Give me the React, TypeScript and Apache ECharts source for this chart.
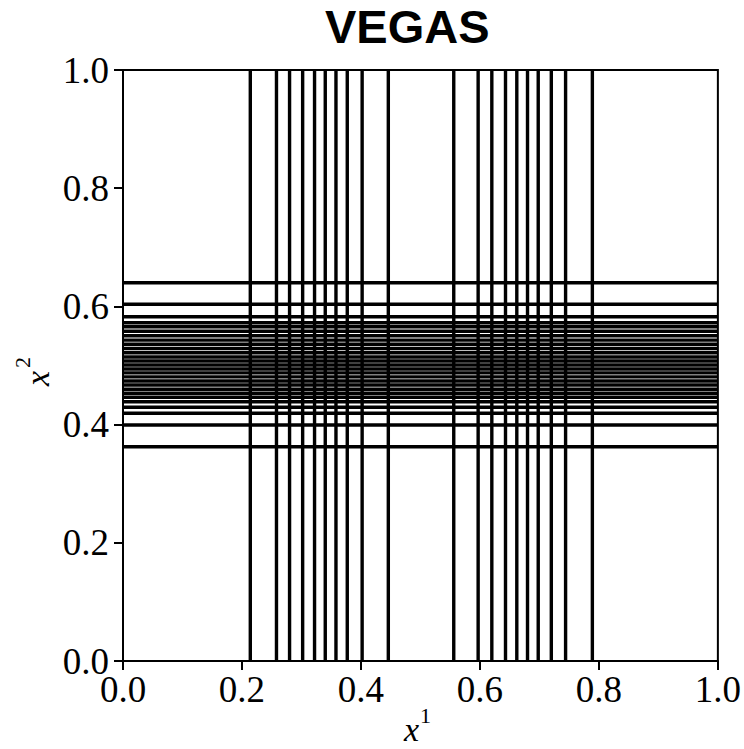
import React, { useEffect, useRef } from "react";
import * as echarts from "echarts";

// VEGAS grid edges along x^1 (vertical lines)
const xEdges = [
  0.214, 0.258, 0.28, 0.302, 0.322, 0.34, 0.358, 0.377, 0.402, 0.446,
  0.556, 0.597, 0.62, 0.643, 0.662, 0.68, 0.698, 0.72, 0.744, 0.789,
];

// VEGAS grid edges along x^2 (horizontal lines)
const yEdges = [
  0.3626, 0.3993, 0.4191, 0.4293, 0.4387, 0.4462, 0.453, 0.4597, 0.467,
  0.4738, 0.4808, 0.4875, 0.494, 0.5008, 0.5075, 0.5145, 0.5215, 0.5288,
  0.536, 0.543, 0.5504, 0.558, 0.5655, 0.5724, 0.5826, 0.6036, 0.64,
];

const axisMin = 0;
const axisMax = 1;
const tickStep = 0.2;

const SERIF = "'Liberation Serif', 'Times New Roman', serif";
const SANS = "'Liberation Sans', Arial, sans-serif";

export default function App() {
  const ref = useRef<HTMLDivElement>(null);

  useEffect(() => {
    document.body.style.margin = "0";
    if (!ref.current) return;
    const chart = echarts.init(ref.current, undefined, { renderer: "svg" });

    const lineStyle = { color: "#000", width: 3.4, cap: "butt" as const };
    const vSeries = xEdges.map((x) => ({
      type: "line" as const,
      data: [
        [x, axisMin],
        [x, axisMax],
      ],
      symbol: "none",
      silent: true,
      lineStyle,
      color: "#000",
    }));
    const hSeries = yEdges.map((y) => ({
      type: "line" as const,
      data: [
        [axisMin, y],
        [axisMax, y],
      ],
      symbol: "none",
      silent: true,
      lineStyle,
      color: "#000",
    }));

    const axisCommon = {
      type: "value" as const,
      min: axisMin,
      max: axisMax,
      interval: tickStep,
      splitLine: { show: false },
      axisLine: { show: true, lineStyle: { color: "#000", width: 2 } },
      axisTick: {
        show: true,
        inside: false,
        length: 9,
        lineStyle: { color: "#000", width: 2 },
      },
    };

    chart.setOption({
      animation: false,
      backgroundColor: "#fff",
      grid: {
        left: 123,
        right: 24,
        top: 70,
        bottom: 88,
        show: true,
        borderColor: "#000",
        borderWidth: 2,
        backgroundColor: "transparent",
      },
      xAxis: {
        ...axisCommon,
        axisLabel: {
          formatter: (v: number) => v.toFixed(1),
          fontFamily: SERIF,
          fontSize: 37,
          color: "#000",
          margin: 10,
        },
      },
      yAxis: {
        ...axisCommon,
        axisLabel: {
          formatter: (v: number) => v.toFixed(1),
          fontFamily: SERIF,
          fontSize: 37,
          color: "#000",
          margin: 14,
        },
      },
      graphic: [
        {
          type: "text",
          left: 325,
          top: 3,
          style: {
            text: "VEGAS",
            font: `bold 47px ${SANS}`,
            fill: "#000",
          },
        },
        {
          type: "text",
          x: 404,
          y: 712,
          style: {
            text: "x",
            font: `italic 34px ${SERIF}`,
            lineHeight: 34,
            fill: "#000",
          },
        },
        {
          type: "text",
          x: 420,
          y: 704,
          style: {
            text: "1",
            font: `22px ${SERIF}`,
            lineHeight: 22,
            fill: "#000",
          },
        },
        {
          type: "group",
          x: 20,
          y: 386,
          rotation: Math.PI / 2,
          children: [
            {
              type: "text",
              x: 0,
              y: 0,
              style: {
                text: "x",
                font: `italic 34px ${SERIF}`,
                fill: "#000",
              },
            },
            {
              type: "text",
              x: 18,
              y: -9,
              style: {
                text: "2",
                font: `22px ${SERIF}`,
                fill: "#000",
              },
            },
          ],
        },
      ],
      series: [...vSeries, ...hSeries],
    });

    return () => chart.dispose();
  }, []);

  return <div ref={ref} style={{ width: 744, height: 749 }} />;
}
